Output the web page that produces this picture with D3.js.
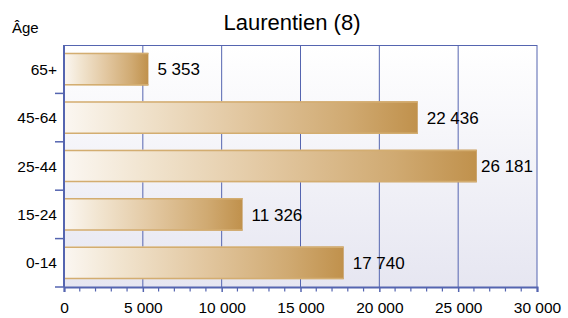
<!DOCTYPE html>
<html><head><meta charset="utf-8">
<script src="https://cdn.jsdelivr.net/npm/d3@7"></script>
<style>body{margin:0;background:#fff}svg{display:block;font-family:"Liberation Sans",Arial,sans-serif}</style>
</head><body><svg id="c" width="568" height="318"></svg>
<script>
const categories = ["65+","45-64","25-44","15-24","0-14"];
const values = [5353,22436,26181,11326,17740];
const xTicks = [0,5000,10000,15000,20000,25000,30000];
const title = "Laurentien (8)";
const yTitle = "Âge";

const svg = d3.select("#c");
const m = {l:64, r:537, t:45, b:287};
const x = d3.scaleLinear().domain([0,30000]).range([m.l,m.r]);
const y = d3.scaleBand().domain(categories).range([m.t,m.b]).paddingInner(0.325).paddingOuter(0.1625);
const band = d3.scaleBand().domain(categories).range([m.t,m.b]);
const fmt = v => d3.format(",")(v).replace(/,/g," ");

const defs = svg.append("defs");
const bg = defs.append("linearGradient").attr("id","bg").attr("x1",0).attr("y1",0).attr("x2",0).attr("y2",1);
bg.append("stop").attr("offset",0).attr("stop-color","#ffffff");
bg.append("stop").attr("offset",1).attr("stop-color","#e6e6f1");
const bar = defs.append("linearGradient").attr("id","bar").attr("x1",0).attr("y1",0).attr("x2",1).attr("y2",0);
[[0,"#fbf7f2"],[0.2,"#f1e4cf"],[0.5,"#e2c7a0"],[0.8,"#d0aa72"],[1,"#c0914c"]].forEach(s=>bar.append("stop").attr("offset",s[0]).attr("stop-color",s[1]));

svg.append("rect").attr("x",m.l).attr("y",m.t).attr("width",m.r-m.l).attr("height",m.b-m.t).attr("fill","url(#bg)");

// grid
svg.append("g").selectAll("line").data(xTicks.slice(1)).join("line")
  .attr("x1",d=>x(d)).attr("x2",d=>x(d)).attr("y1",m.t).attr("y2",m.b)
  .attr("stroke","#5565b0").attr("stroke-width",1);
svg.append("line").attr("x1",m.l).attr("x2",m.r).attr("y1",m.t+0.5).attr("y2",m.t+0.5).attr("stroke","#5565b0").attr("stroke-width",1.2);

// bars
const g = svg.append("g");
g.selectAll("rect").data(values).join("rect")
  .attr("x",x(0)).attr("y",(d,i)=>y(categories[i])).attr("width",d=>x(d)-x(0)).attr("height",y.bandwidth())
  .attr("fill","url(#bar)");
g.selectAll("line.t").data(values).join("line").attr("class","t")
  .attr("x1",x(0)).attr("x2",d=>x(d)).attr("y1",(d,i)=>y(categories[i])+0.75).attr("y2",(d,i)=>y(categories[i])+0.75)
  .attr("stroke","#d3ad70").attr("stroke-width",1.5);
g.selectAll("line.b").data(values).join("line").attr("class","b")
  .attr("x1",x(0)).attr("x2",d=>x(d)).attr("y1",(d,i)=>y(categories[i])+y.bandwidth()-0.75).attr("y2",(d,i)=>y(categories[i])+y.bandwidth()-0.75)
  .attr("stroke","#d3ad70").attr("stroke-width",1.5);
g.selectAll("text").data(values).join("text")
  .attr("x",d=>x(d)+9).attr("y",(d,i)=>y(categories[i])+y.bandwidth()/2).attr("dy","0.36em")
  .attr("font-size",17).attr("fill","#000").text(d=>fmt(d))
  .each(function(d){
    const w = this.getComputedTextLength();
    if (x(d)+9+w > m.r-4) d3.select(this).attr("x", m.r-4-w);
  });

// x axis
const xa = svg.append("g").attr("transform",`translate(0,${m.b})`)
  .call(d3.axisBottom(x).tickValues(xTicks).tickFormat(fmt).tickSize(5).tickPadding(10));
xa.select(".domain").attr("stroke","#5565b0").attr("stroke-width",2);
xa.selectAll(".tick line").attr("stroke","#5565b0").attr("stroke-width",1.5);
xa.selectAll("text").attr("font-size",15.5).attr("fill","#000").attr("font-family","Liberation Sans, Arial, sans-serif");
const minor = d3.range(0,30001,1000).filter(v=>v%5000!==0);
svg.append("g").selectAll("line").data(minor).join("line")
  .attr("x1",d=>x(d)).attr("x2",d=>x(d)).attr("y1",m.b).attr("y2",m.b+4.5)
  .attr("stroke","#5565b0").attr("stroke-width",1.2);

// y axis
svg.append("line").attr("x1",m.l).attr("x2",m.l).attr("y1",m.t).attr("y2",m.b).attr("stroke","#5565b0").attr("stroke-width",2);
const bounds = categories.map(c=>band(c)).slice(1).concat([m.b]);
svg.append("g").selectAll("line").data(bounds).join("line")
  .attr("x1",m.l-9).attr("x2",m.l).attr("y1",d=>d).attr("y2",d=>d).attr("stroke","#5565b0").attr("stroke-width",1.5);
svg.append("g").selectAll("text").data(categories).join("text")
  .attr("x",m.l-7).attr("y",d=>band(d)+band.bandwidth()/2).attr("dy","0.36em")
  .attr("text-anchor","end").attr("font-size",15.5).attr("fill","#000").text(d=>d);

svg.append("text").attr("x",292).attr("y",30).attr("text-anchor","middle").attr("font-size",22).attr("fill","#000").text(title);
svg.append("text").attr("x",12).attr("y",33).attr("font-size",15).attr("fill","#000").text(yTitle);
</script></body></html>
